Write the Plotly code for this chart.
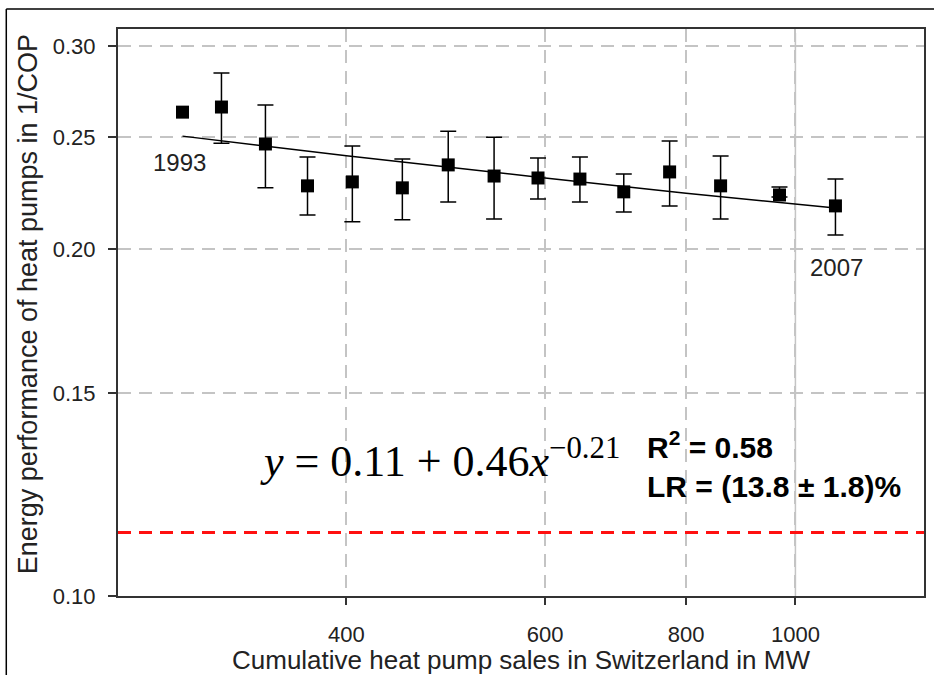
import math
import plotly.graph_objects as go

# ---- data ----
sales_mw = [286.3, 310.0, 339.1, 369.5, 404.9, 448.4, 492.4, 540.7, 591.4, 644.2,
            704.5, 773.6, 858.4, 968.0, 1085.1]
inv_cop = [0.2629, 0.2656, 0.2467, 0.2269, 0.2287, 0.2260, 0.2366, 0.2314, 0.2305,
           0.2300, 0.2242, 0.2333, 0.2269, 0.2228, 0.2180]
err_upper = [None, 0.2843, 0.2667, 0.2404, 0.2457, 0.2394, 0.2531, 0.2501, 0.2399,
             0.2404, 0.2323, 0.2482, 0.2408, 0.2264, 0.2300]
err_lower = [None, 0.2471, 0.2260, 0.2141, 0.2112, 0.2120, 0.2197, 0.2124, 0.2210,
             0.2197, 0.2154, 0.2180, 0.2124, 0.2219, 0.2057]
fit_x = [286.3, 400.0, 600.0, 800.0, 1085.1]
fit_y = [0.2506, 0.2410, 0.2305, 0.2236, 0.2171]
floor_value = 0.1135
vgrid_solid = [1000]

x_ticks = [400, 600, 800, 1000]
x_ticktext = ["400", "600", "800", "1000"]
y_ticks = [0.10, 0.15, 0.20, 0.25, 0.30]
y_ticktext = ["0.10", "0.15", "0.20", "0.25", "0.30"]

SANS = "Liberation Sans, Arial, Helvetica, sans-serif"
SERIF = "Liberation Serif, Times New Roman, serif"
DARK = "#222222"
GRID = "#c4c4c4"

fig = go.Figure()

# fitted curve
fig.add_trace(go.Scatter(x=fit_x, y=fit_y, mode="lines",
                         line=dict(color="black", width=1.5), hoverinfo="skip"))

# first point (no error bar)
fig.add_trace(go.Scatter(x=sales_mw[:1], y=inv_cop[:1], mode="markers",
                         marker=dict(symbol="square", size=13, color="black")))

# remaining points with asymmetric error bars
up = [u - v for u, v in zip(err_upper[1:], inv_cop[1:])]
dn = [v - l for l, v in zip(err_lower[1:], inv_cop[1:])]
fig.add_trace(go.Scatter(x=sales_mw[1:], y=inv_cop[1:], mode="markers",
                         marker=dict(symbol="square", size=13, color="black"),
                         error_y=dict(type="data", array=up, arrayminus=dn,
                                      color="black", thickness=1.5, width=8)))

shapes = []
for v in vgrid_solid:
    shapes.append(dict(type="line", xref="x", yref="paper", x0=v, x1=v, y0=0, y1=0.993,
                       line=dict(color=GRID, width=1.5), layer="below"))
shapes.append(dict(type="line", xref="paper", yref="y", x0=0, x1=1,
                   y0=floor_value, y1=floor_value,
                   line=dict(color="#ff1010", width=3, dash="13px,8px")))
# outer figure frame (left and top edges)
shapes.append(dict(type="line", xref="paper", yref="paper", x0=-0.1386, x1=-0.1386,
                   y0=1.0353, y1=-0.2, line=dict(color="black", width=1.5)))
shapes.append(dict(type="line", xref="paper", yref="paper", x0=-0.1386, x1=1.1,
                   y0=1.0353, y1=1.0353, line=dict(color="black", width=1.5)))

annotations = [
    dict(text="1993", xref="paper", yref="paper", x=0.0767, y=0.7637,
         xanchor="center", yanchor="middle",
         showarrow=False, font=dict(family=SANS, size=24, color=DARK)),
    dict(text="2007", xref="paper", yref="paper", x=0.891, y=0.5802,
         xanchor="center", yanchor="middle",
         showarrow=False, font=dict(family=SANS, size=24, color=DARK)),
    dict(text="<i>y</i> = 0.11 + 0.46<i>x</i><sup>\u22120.21</sup>",
         xref="paper", yref="paper", x=0.1733, y=0.243, xanchor="left", yanchor="middle",
         showarrow=False, font=dict(family=SERIF, size=44, color="black")),
    dict(text="<b>R<sup>2</sup> = 0.58</b><br><b>LR = (13.8 \u00b1 1.8)%</b>",
         xref="paper", yref="paper", x=0.654, y=0.232, xanchor="left", yanchor="middle",
         align="left", showarrow=False, font=dict(family=SANS, size=30, color="black")),
    dict(text="Energy performance of heat pumps in 1/COP", textangle=-90,
         xref="paper", yref="paper", x=-0.1114, y=0.515, xanchor="center", yanchor="middle",
         showarrow=False, font=dict(family=SANS, size=27, color=DARK)),
]

fig.update_layout(
    width=934, height=675,
    margin=dict(l=118, r=8, t=29, b=79),
    paper_bgcolor="white", plot_bgcolor="white",
    showlegend=False,
    shapes=shapes, annotations=annotations,
    xaxis=dict(type="log", range=[math.log10(251), math.log10(1300)],
               tickvals=x_ticks, ticktext=x_ticktext, ticks="outside", ticklen=7,
               tickwidth=1.5, tickcolor="#333", ticklabelstandoff=11,
               tickfont=dict(family=SANS, size=22, color=DARK),
               showgrid=True, gridcolor=GRID, gridwidth=1.5, griddash="13px,8px",
               showline=True, linecolor="#333", linewidth=2, mirror=True, zeroline=False,
               title=dict(text="Cumulative heat pump sales in Switzerland in MW",
                          font=dict(family=SANS, size=26, color=DARK), standoff=0)),
    yaxis=dict(type="log", range=[-1, math.log10(0.3104)],
               tickvals=y_ticks, ticktext=y_ticktext, ticks="outside", ticklen=8,
               tickwidth=1.5, tickcolor="#333", ticklabelstandoff=8,
               tickfont=dict(family=SANS, size=22, color=DARK),
               showgrid=True, gridcolor=GRID, gridwidth=1.5, griddash="13px,8px",
               showline=True, linecolor="#333", linewidth=2, mirror=True, zeroline=False),
)

fig.write_html("out.html", config={"displayModeBar": False},
               post_script="document.body.style.margin='0px';")
